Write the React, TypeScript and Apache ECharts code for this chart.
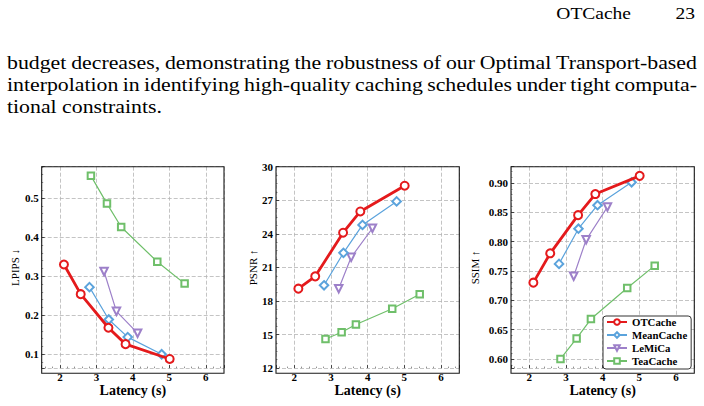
import React, { useEffect, useRef } from 'react';
import * as echarts from 'echarts';

// ---------- data ----------
const methods = ['OTCache', 'MeanCache', 'LeMiCa', 'TeaCache'];

const latencyOT = [2.11, 2.57, 3.33, 3.8, 5.01];
const latencyMean = [2.81, 3.34, 3.86, 4.79];
const latencyLeMiCa = [3.21, 3.55, 4.13];
const latencyTea = [2.85, 3.29, 3.68, 4.67, 5.42];

const lpipsOT = [0.33, 0.254, 0.168, 0.126, 0.088];
const lpipsMean = [0.272, 0.189, 0.144, 0.1];
const lpipsLeMiCa = [0.312, 0.21, 0.154];
const lpipsTea = [0.557, 0.486, 0.426, 0.337, 0.281];

const psnrOT = [19.1, 20.2, 24.1, 26.0, 28.3];
const psnrMean = [19.4, 22.3, 24.8, 26.9];
const psnrLeMiCa = [19.1, 21.9, 24.5];
const psnrTea = [14.6, 15.2, 15.9, 17.3, 18.6];

const ssimOT = [0.73, 0.78, 0.845, 0.881, 0.912];
const ssimMean = [0.762, 0.822, 0.862, 0.901];
const ssimLeMiCa = [0.741, 0.803, 0.859];
const ssimTea = [0.6, 0.635, 0.668, 0.721, 0.759];

const metricNames = ['LPIPS \u2193', 'PSNR \u2191', 'SSIM \u2191'];
const xAxisTitle = 'Latency (s)';

const headerTitle = 'OTCache';
const headerPage = '23';
const paragraphLines = [
  'budget decreases, demonstrating the robustness of our Optimal Transport-based',
  'interpolation in identifying high-quality caching schedules under tight computa-',
  'tional constraints.',
];

// ---------- styling / layout ----------
const latency: Record<string, number[]> = {
  OTCache: latencyOT,
  MeanCache: latencyMean,
  LeMiCa: latencyLeMiCa,
  TeaCache: latencyTea,
};
const metrics: Record<string, number[]>[] = [
  { OTCache: lpipsOT, MeanCache: lpipsMean, LeMiCa: lpipsLeMiCa, TeaCache: lpipsTea },
  { OTCache: psnrOT, MeanCache: psnrMean, LeMiCa: psnrLeMiCa, TeaCache: psnrTea },
  { OTCache: ssimOT, MeanCache: ssimMean, LeMiCa: ssimLeMiCa, TeaCache: ssimTea },
];

const seriesStyle: Record<string, any> = {
  OTCache: { color: '#e41a1c', symbol: 'emptyCircle', size: 8, width: 2.8, border: 1.4, rotate: 0, z: 5 },
  MeanCache: { color: '#5ba3dc', symbol: 'emptyDiamond', size: 8.5, width: 1.2, border: 1, rotate: 0, z: 4 },
  LeMiCa: { color: '#9d80c9', symbol: 'emptyTriangle', size: 7.5, width: 1.2, border: 1, rotate: 180, z: 3 },
  TeaCache: { color: '#6fbf6a', symbol: 'emptyRect', size: 6.5, width: 1.2, border: 1, rotate: 0, z: 2 },
};

const grids = [
  { left: 41.7, top: 166.7, width: 182.3, height: 206.6 },
  { left: 276, top: 166.7, width: 183.3, height: 206.6 },
  { left: 511, top: 166.7, width: 183.3, height: 206.6 },
];

const yAxisCfg: any[] = [
  { min: 0.0646, max: 0.5805, splitNumber: 5, minorSplit: 5, hideEnds: true, nameGap: 21, fmt: (v: number) => String(Math.round(v * 10) / 10) },
  { min: 12, max: 30, interval: 3, minorSplit: 4, hideEnds: false, nameGap: 16.5, fmt: (v: number) => String(v) },
  { min: 0.5844, max: 0.9276, splitNumber: 5, minorSplit: 5, hideEnds: true, nameGap: 30.5, fmt: (v: number) => v.toFixed(2) },
];

const SERIF = 'Liberation Serif';
const tickFont = { fontFamily: SERIF, fontWeight: 'bold' as const, fontSize: 11, color: '#000' };
const splitLineStyle = { type: [4, 2], color: '#b5b5b5', width: 0.8 };

export default function App() {
  const ref = useRef<HTMLDivElement>(null);

  useEffect(() => {
    document.body.style.margin = '0';
    const chart = echarts.init(ref.current!, null, { renderer: 'svg', width: 704, height: 406 });

    // measure text for justified paragraph
    const canvas = document.createElement('canvas');
    const ctx = canvas.getContext('2d')!;
    const bodySize = 19;
    const measure = (t: string, size: number) => {
      ctx.font = `${size}px "${SERIF}"`;
      return ctx.measureText(t).width;
    };
    const textLeft = 7;
    const textRight = 697;
    const scale = 155 / measure(paragraphLines[2], bodySize);
    const spaceW = measure(' ', bodySize) * scale;
    const lineY = [62.6, 84.6, 106.6];

    const txtStyle = (text: string, size: number, align: string) => ({
      text,
      fontFamily: SERIF,
      fontSize: size,
      fill: '#000',
      align,
      verticalAlign: 'middle',
    });

    const graphics: any[] = [];
    paragraphLines.forEach((line, li) => {
      const words = line.split(' ');
      const widths = words.map((w) => measure(w, bodySize) * scale);
      const total = widths.reduce((a, b) => a + b, 0);
      const justify = li < paragraphLines.length - 1;
      const gap = justify ? (textRight - textLeft - total) / (words.length - 1) : spaceW;
      let x = textLeft;
      words.forEach((w, wi) => {
        graphics.push({
          type: 'text',
          x,
          y: lineY[li],
          scaleX: scale,
          silent: true,
          style: txtStyle(w, bodySize, 'left'),
        });
        x += widths[wi] + gap;
      });
    });
    const headSize = 17;
    graphics.push({ type: 'text', x: 631, y: 13.3, scaleX: scale, silent: true, style: txtStyle(headerTitle, headSize, 'right') });
    graphics.push({ type: 'text', x: 695, y: 13.3, scaleX: scale, silent: true, style: txtStyle(headerPage, headSize, 'right') });
    grids.forEach((g) => {
      graphics.push({
        type: 'rect', z: 100, silent: true,
        shape: { x: g.left, y: g.top, width: g.width, height: g.height },
        style: { fill: 'none', stroke: '#1a1a1a', lineWidth: 1.1 },
      });
    });

    const xAxes = grids.map((_, i) => ({
      type: 'value',
      gridIndex: i,
      min: 1.5,
      max: 6.5,
      splitNumber: 5,
      name: xAxisTitle,
      nameLocation: 'middle',
      nameGap: 13,
      nameTextStyle: { fontFamily: SERIF, fontWeight: 'bold', fontSize: 14, color: '#000' },
      axisLine: { show: false },
      axisTick: { show: true, inside: true, length: 3, lineStyle: { color: '#222', width: 0.8 } },
      minorTick: { show: true, splitNumber: 5, length: 1.5, lineStyle: { color: '#444', width: 0.6 } },
      axisLabel: { ...tickFont, margin: 3, showMinLabel: false, showMaxLabel: false },
      splitLine: { show: true, lineStyle: splitLineStyle },
    }));

    const yAxes = yAxisCfg.map((c, i) => {
      const ax: any = {
        type: 'value',
        gridIndex: i,
        min: c.min,
        max: c.max,
        name: metricNames[i],
        nameLocation: 'middle',
        nameRotate: 90,
        nameGap: c.nameGap,
        nameTextStyle: { fontFamily: SERIF, fontSize: 11, color: '#000' },
        axisLine: { show: false },
        axisTick: { show: true, inside: true, length: 3, lineStyle: { color: '#222', width: 0.8 } },
        minorTick: { show: true, splitNumber: c.minorSplit, length: 1.5, lineStyle: { color: '#444', width: 0.6 } },
        axisLabel: {
          ...tickFont,
          margin: 3,
          formatter: c.fmt,
          showMinLabel: c.hideEnds ? false : true,
          showMaxLabel: c.hideEnds ? false : true,
        },
        splitLine: { show: true, lineStyle: splitLineStyle },
      };
      if (c.interval) ax.interval = c.interval;
      else ax.splitNumber = c.splitNumber;
      return ax;
    });

    const series: any[] = [];
    metrics.forEach((metric, pi) => {
      methods.forEach((m) => {
        const st = seriesStyle[m];
        const xs = latency[m];
        const ys = metric[m];
        series.push({
          type: 'line',
          name: m,
          xAxisIndex: pi,
          yAxisIndex: pi,
          z: st.z,
          data: xs.map((x, k) => [x, ys[k]]),
          symbol: st.symbol,
          symbolSize: st.size,
          symbolRotate: st.rotate,
          showAllSymbol: true,
          color: st.color,
          lineStyle: { color: st.color, width: st.width },
          itemStyle: { color: st.color, borderColor: st.color, borderWidth: st.border },
          emphasis: { disabled: true },
        });
      });
    });

    chart.setOption({
      animation: false,
      backgroundColor: '#fff',
      textStyle: { fontFamily: SERIF },
      grid: grids.map((g) => ({ ...g, containLabel: false })),
      xAxis: xAxes,
      yAxis: yAxes,
      legend: {
        data: methods,
        orient: 'vertical',
        left: 603,
        top: 316,
        itemWidth: 20,
        itemHeight: 7,
        itemGap: 2,
        padding: [0.5, 4, 2.5, 3],
        selectedMode: false,
        borderColor: '#333',
        borderWidth: 1,
        borderRadius: 3,
        backgroundColor: '#fff',
        textStyle: { fontFamily: SERIF, fontWeight: 'bold', fontSize: 10.8, lineHeight: 11, color: '#000' },
      },
      graphic: graphics,
      series,
    });

    return () => chart.dispose();
  }, []);

  return (
    <div
      ref={ref}
      style={{ position: 'absolute', left: 0, top: 0, width: 704, height: 406, background: '#fff' }}
    />
  );
}
